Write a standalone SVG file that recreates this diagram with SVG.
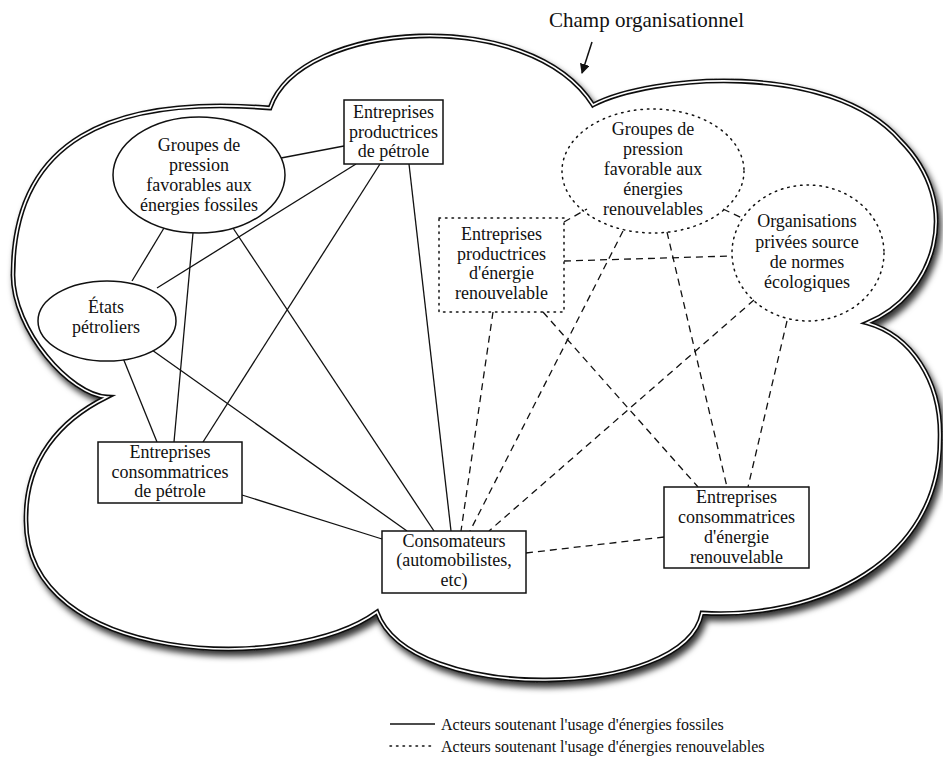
<svg xmlns="http://www.w3.org/2000/svg" width="943" height="761" viewBox="0 0 943 761">
  <style>
    text { font-family: "Liberation Serif", "Times New Roman", serif; font-size: 18px; fill: #111; text-anchor: middle; }
    .title { font-size: 21px; text-anchor: start; }
    .legend { font-size: 16px; text-anchor: start; }
    .box { fill: #fff; stroke: #111; stroke-width: 1.5; }
    .dotbox { fill: none; stroke: #111; stroke-width: 1.5; stroke-dasharray: 1.5 5; stroke-linecap: round; }
    .solid { stroke: #111; stroke-width: 1.3; fill: none; }
    .dashed { stroke: #111; stroke-width: 1.3; fill: none; stroke-dasharray: 7 5; }
    .cloud-outer { fill: #fff; stroke: #111; stroke-width: 4.8; stroke-linejoin: miter; stroke-miterlimit: 20; }
    .cloud-inner { fill: none; stroke: #fff; stroke-width: 1.6; stroke-linejoin: miter; stroke-miterlimit: 20; }
  </style>
  <defs>
    <filter id="shadow" x="-10%" y="-10%" width="120%" height="125%">
      <feDropShadow dx="3" dy="5" stdDeviation="3" flood-color="#000" flood-opacity="0.8"/>
    </filter>
    <marker id="arrow" markerWidth="10" markerHeight="10" refX="9" refY="5" orient="auto" markerUnits="userSpaceOnUse">
      <path d="M0,0 L10,5 L0,10 Z" fill="#111"/>
    </marker>
    <path id="cloudPath" d="M107,397 C70,395 13,330 13,275 C13,140 110,95 270,108 C300,20 530,5 593,105 C650,75 830,60 900,140 C965,205 935,295 867,323 C910,335 942,380 940,440 C940,560 820,620 702,613 C685,700 410,705 377,612 C290,675 25,665 26,520 C25,460 60,420 107,397 Z"/>
  </defs>

  <!-- organisational field outline -->
  <g id="champ">
    <use href="#cloudPath" class="cloud-outer" filter="url(#shadow)"/>
    <use href="#cloudPath" class="cloud-inner"/>
    <text class="title" x="549" y="27">Champ organisationnel</text>
    <line x1="592" y1="42" x2="582" y2="73" stroke="#111" stroke-width="1.5" marker-end="url(#arrow)"/>
  </g>

  <!-- links between actors -->
  <g id="connectors">
    <line class="solid" x1="281" y1="158" x2="344" y2="146"/>
    <line class="solid" x1="164" y1="228" x2="132" y2="281"/>
    <line class="solid" x1="193" y1="233" x2="174" y2="442"/>
    <line class="solid" x1="233" y1="228" x2="434" y2="531"/>
    <line class="solid" x1="157" y1="288" x2="356" y2="164"/>
    <line class="solid" x1="380" y1="164" x2="203" y2="442"/>
    <line class="solid" x1="409" y1="164" x2="451" y2="531"/>
    <line class="solid" x1="123" y1="358" x2="157" y2="442"/>
    <line class="solid" x1="152" y1="350" x2="407" y2="531"/>
    <line class="solid" x1="242" y1="495" x2="382" y2="539"/>

    <line class="dashed" x1="564" y1="222" x2="587" y2="209"/>
    <line class="dashed" x1="723" y1="209" x2="742" y2="218"/>
    <line class="dashed" x1="564" y1="261" x2="732" y2="256"/>
    <line class="dashed" x1="493" y1="312" x2="461" y2="531"/>
    <line class="dashed" x1="623" y1="231" x2="470" y2="531"/>
    <line class="dashed" x1="754" y1="300" x2="489" y2="531"/>
    <line class="dashed" x1="667" y1="232" x2="727" y2="487"/>
    <line class="dashed" x1="543" y1="312" x2="698" y2="487"/>
    <line class="dashed" x1="787" y1="321" x2="748" y2="487"/>
    <line class="dashed" x1="526" y1="553" x2="664" y2="537"/>
  </g>

  <g id="groupes-fossiles">
    <ellipse class="box" cx="199" cy="175" rx="86" ry="58"/>
    <text x="199" y="151">Groupes de</text>
    <text x="199" y="171">pression</text>
    <text x="199" y="191">favorables aux</text>
    <text x="199" y="211">énergies fossiles</text>
  </g>

  <g id="producteurs-petrole">
    <rect class="box" x="344" y="100" width="99" height="64"/>
    <text x="393.5" y="118">Entreprises</text>
    <text x="393.5" y="138">productrices</text>
    <text x="393.5" y="157">de pétrole</text>
  </g>

  <g id="etats-petroliers">
    <ellipse class="box" cx="107" cy="321" rx="69" ry="40"/>
    <text x="106" y="313">États</text>
    <text x="106" y="333">pétroliers</text>
  </g>

  <g id="consommateurs-petrole">
    <rect class="box" x="98" y="442" width="144" height="61"/>
    <text x="170" y="458">Entreprises</text>
    <text x="170" y="478">consommatrices</text>
    <text x="170" y="497">de pétrole</text>
  </g>

  <g id="consomateurs">
    <rect class="box" x="382" y="531" width="144" height="62"/>
    <text x="454" y="547">Consomateurs</text>
    <text x="454" y="566">(automobilistes,</text>
    <text x="454" y="586">etc)</text>
  </g>

  <g id="consommateurs-renouvelable">
    <rect class="box" x="664" y="487" width="145" height="81"/>
    <text x="736.5" y="503">Entreprises</text>
    <text x="736.5" y="523">consommatrices</text>
    <text x="736.5" y="543">d'énergie</text>
    <text x="736.5" y="563">renouvelable</text>
  </g>

  <g id="producteurs-renouvelable">
    <rect class="dotbox" x="439" y="218" width="125" height="94"/>
    <text x="501.5" y="240">Entreprises</text>
    <text x="501.5" y="260">productrices</text>
    <text x="501.5" y="279">d'énergie</text>
    <text x="501.5" y="299">renouvelable</text>
  </g>

  <g id="groupes-renouvelables">
    <ellipse class="dotbox" cx="653" cy="171" rx="91" ry="62"/>
    <text x="653" y="135">Groupes de</text>
    <text x="653" y="155">pression</text>
    <text x="653" y="175">favorable aux</text>
    <text x="653" y="195">énergies</text>
    <text x="653" y="215">renouvelables</text>
  </g>

  <g id="organisations-normes">
    <ellipse class="dotbox" cx="808" cy="253" rx="76" ry="68"/>
    <text x="807" y="227">Organisations</text>
    <text x="807" y="248">privées source</text>
    <text x="807" y="268">de normes</text>
    <text x="807" y="288">écologiques</text>
  </g>

  <g id="legende">
    <line class="solid" x1="390" y1="724" x2="435" y2="724"/>
    <text class="legend" x="441" y="730">Acteurs soutenant l'usage d'énergies fossiles</text>
    <line class="dotbox" x1="390" y1="746" x2="435" y2="746"/>
    <text class="legend" x="441" y="752">Acteurs soutenant l'usage d'énergies renouvelables</text>
  </g>
</svg>
